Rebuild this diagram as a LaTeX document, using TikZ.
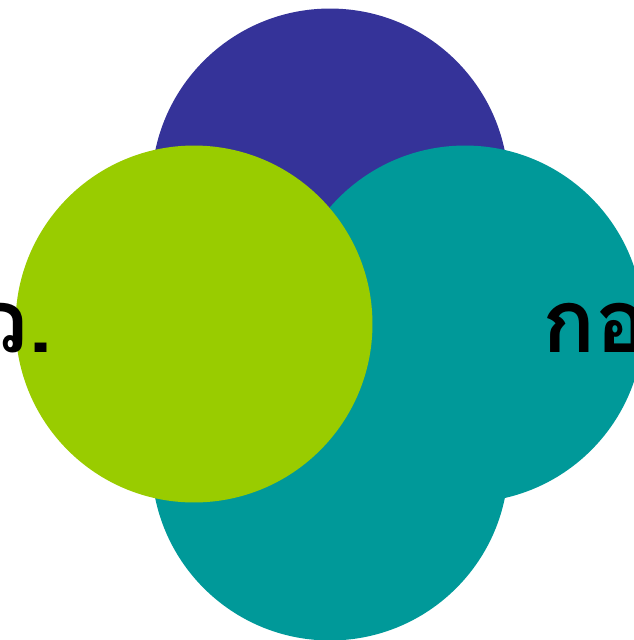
\documentclass[tikz,border=0pt]{standalone}
\usepackage{fontspec}
\newfontfamily\thaifont[Script=Thai]{Loma}
\usepackage{tikz}

\definecolor{ringpurple}{HTML}{353399}
\definecolor{ringteal}{HTML}{009999}
\definecolor{ringgreen}{HTML}{99CC00}

\begin{document}
\begin{tikzpicture}[x=0.02cm, y=-0.02cm,
    ring/.style={circle, minimum size=7.14cm, inner sep=0pt, draw=none},
    label/.style={font=\thaifont\bfseries\fontsize{50}{60}\selectfont, inner sep=0pt}]
    % --- 枠 ---
    \useasboundingbox (0,0) rectangle (634,640);
    \clip (0,0) rectangle (634,640);

    % --- 四つの円 ---
    \node[ring, fill=ringpurple] (top) at (330,187) {};
    \node[ring, fill=ringteal] (bottom) at (330,462) {};
    \node[ring, fill=ringteal] (right) at (465,324) {};
    \node[ring, fill=ringgreen] (left) at (194,324) {};

    % --- 文字 ---
    \node[label, anchor=base east] (lefttext) at (53,352) {สสว.};
    \node[label, anchor=base west] (righttext) at (542,352) {กอง};
\end{tikzpicture}
\end{document}
